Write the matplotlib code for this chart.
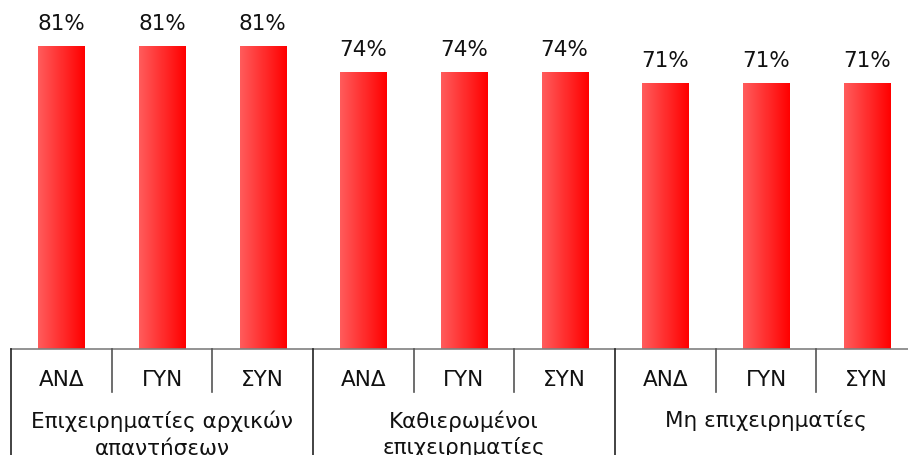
import numpy as np
import matplotlib.pyplot as plt
from matplotlib.colors import LinearSegmentedColormap

groups = ['Επιχειρηματίες αρχικών\nαπαντήσεων', 'Καθιερωμένοι\nεπιχειρηματίες',
          'Μη επιχειρηματίες']
subLabels = ['ΑΝΔ', 'ΓΥΝ', 'ΣΥΝ']
values = [81, 81, 81, 74, 74, 74, 71, 71, 71]

plt.rcParams['font.family'] = ['DejaVu Sans']
fig = plt.figure(figsize=(9.08, 4.55), dpi=100)
ax = fig.add_axes([11 / 908., 106 / 455., 906 / 908., 349 / 455.])

n = len(values)
x = np.arange(n)
bar_width = 0.46
cmap = LinearSegmentedColormap.from_list('redgrad', ['#ff5c5c', '#ff0000'])
grad = np.linspace(0, 1, 256).reshape(1, -1)

bars = ax.bar(x, values, bar_width, color='none', edgecolor='none')
for rect, v in zip(bars, values):
    x0 = rect.get_x()
    im = ax.imshow(grad, cmap=cmap, aspect='auto',
                   extent=[x0, x0 + rect.get_width(), 0, v], zorder=2)
    im.set_clip_path(rect)
    ax.text(rect.get_x() + rect.get_width() / 2., v + 3.3, '%d%%' % v,
            ha='center', va='bottom', fontsize=15.5, color='#111111')

ax.set_xlim(-0.5, n - 0.5)
ax.set_ylim(0, 93.3)
ax.axis('off')

# axis line and separators
ax.plot([-0.5, n - 0.5], [0, 0], color='#808080', lw=1.2, clip_on=False)
for i in range(n + 1):
    if i % 3 == 0:
        ax.plot([i - 0.5, i - 0.5], [0, -28.5], color='#222222', lw=1.2,
                clip_on=False)
    else:
        ax.plot([i - 0.5, i - 0.5], [0, -11.5], color='#555555', lw=1.2,
                clip_on=False)

for i in range(n):
    ax.text(i, -8.4, subLabels[i % 3], ha='center', va='center',
            fontsize=15.5, color='#111111')
for g in range(len(groups)):
    ax.text(3 * g + 1, -16.4, groups[g], ha='center', va='top',
            fontsize=15.5, color='#111111', linespacing=1.32)

fig.savefig('out.png', dpi=100)
